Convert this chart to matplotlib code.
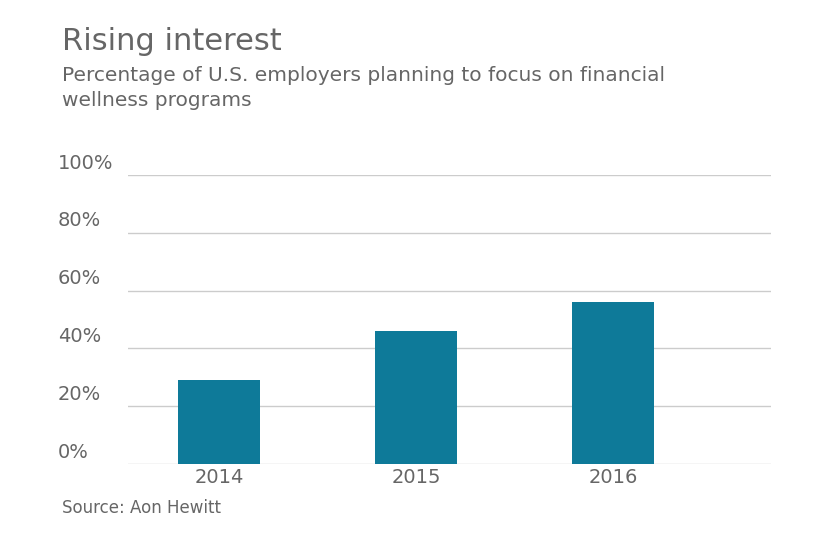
import matplotlib
matplotlib.use("Agg")
import matplotlib.pyplot as plt
from matplotlib.transforms import blended_transform_factory

years = ["2014", "2015", "2016"]
values = [29, 46, 56]
yticks = [0, 20, 40, 60, 80, 100]
ytick_labels = ["0%", "20%", "40%", "60%", "80%", "100%"]

W, H = 840, 547
fig = plt.figure(figsize=(W/100, H/100), dpi=100)
ax = fig.add_axes([128/W, 1-464/H, (771-128)/W, (464-175)/H])
grey = "#666666"
xs = list(range(len(years)))
ax.bar(xs, values, width=0.416, color="#0e7a99", zorder=3)
ax.set_xlim(-0.462, 2.802)
ax.set_ylim(0, 100)
for v in yticks:
    ax.axhline(v, color="#cccccc", lw=1, zorder=1)
for s in ax.spines.values():
    s.set_visible(False)
ax.set_yticks([])
ax.set_xticks(xs)
ax.set_xticklabels(years, fontsize=14, color=grey)
ax.tick_params(axis="x", length=0, pad=3)
tr = blended_transform_factory(fig.transFigure, ax.transData)
for v, lab in zip(yticks, ytick_labels):
    ax.text(58/W, v + 0.8, lab, transform=tr, ha="left", va="bottom",
            fontsize=14, color=grey, clip_on=False)

fig.text(62/W, 1-42/H, "Rising interest", fontsize=22, color=grey, va="center")
fig.text(62/W, 1-76/H, "Percentage of U.S. employers planning to focus on financial",
         fontsize=14.5, color=grey, va="center")
fig.text(62/W, 1-101/H, "wellness programs", fontsize=14.5, color=grey, va="center")
fig.text(62/W, 1-508/H, "Source: Aon Hewitt", fontsize=12, color=grey, va="center")
fig.savefig("out.png", dpi=100)
